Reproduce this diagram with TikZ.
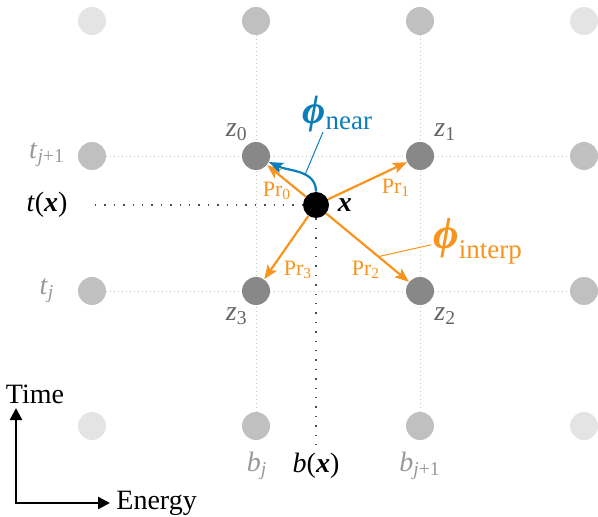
\documentclass[tikz,border=0pt]{standalone}
\usepackage{fontspec}
\setmainfont{Liberation Serif}
\usetikzlibrary{arrows.meta,positioning,calc,backgrounds}
\definecolor{dotpale}{HTML}{E4E4E4}
\definecolor{dotmid}{HTML}{C0C0C0}
\definecolor{dotdark}{HTML}{888888}
\definecolor{lblgray}{HTML}{666666}
\definecolor{lblpale}{HTML}{999999}
\definecolor{gridgray}{HTML}{C4C4C4}
\definecolor{interporange}{HTML}{F7941E}
\definecolor{nearblue}{HTML}{0B7DBA}
\tikzset{
  gdot/.style     = {circle, inner sep=0pt, minimum size=14pt},
  xdot/.style     = {circle, inner sep=0pt, minimum size=13pt, fill=black},
  gridline/.style = {gridgray, line width=0.4pt, dash pattern=on 0.4pt off 1.6pt},
  guideline/.style= {black!70, line width=0.7pt, dash pattern=on 0.7pt off 4pt},
  interp/.style   = {interporange, line width=1.1pt,
                     -{Stealth[length=7pt,width=5.5pt,inset=1.5pt]}},
  nearest/.style  = {nearblue, line width=1.1pt,
                     -{Stealth[length=7pt,width=5.5pt,inset=1.5pt]}},
  pointer/.style  = {line width=0.5pt},
  axis/.style     = {black, line width=1.2pt,
                     {Triangle[length=6pt,width=6pt]}-{Triangle[length=6pt,width=6pt]}},
  zlbl/.style     = {font=\fontsize{14}{16}\selectfont, text=lblgray, inner sep=1pt},
  glbl/.style     = {font=\fontsize{14}{16}\selectfont, text=lblpale, inner sep=1pt},
  prlbl/.style    = {font=\fontsize{11}{13}\selectfont, text=interporange, inner sep=1pt},
  txt/.style      = {font=\fontsize{14}{16}\selectfont, inner sep=1pt},
}
\begin{document}
\begin{tikzpicture}[x=0.5pt, y=0.5pt]
  \useasboundingbox (0,0) rectangle (598,-517);
  % grid of bins
  \foreach \c/\r/\col in {0/0/dotpale,1/0/dotmid,2/0/dotmid,3/0/dotpale,
                          0/1/dotmid,1/1/dotdark,2/1/dotdark,3/1/dotmid,
                          0/2/dotmid,1/2/dotdark,2/2/dotdark,3/2/dotmid,
                          0/3/dotpale,1/3/dotmid,2/3/dotmid,3/3/dotpale}
    \node[gdot, fill=\col] (g\c\r) at ({92+164*\c},{-21-135*\r}) {};
  \begin{scope}[on background layer]
    \draw[gridline] (g10) -- (g13);
    \draw[gridline] (g20) -- (g23);
    \draw[gridline] (g01) -- (g31);
    \draw[gridline] (g02) -- (g32);
  \end{scope}

  % corner labels
  \node[zlbl, anchor=south east] (z0) at (250,-143) {\textit{z}\textsubscript{0}};
  \node[zlbl, anchor=south west] (z1) at (432,-143) {\textit{z}\textsubscript{1}};
  \node[zlbl, anchor=north west] (z2) at (432,-305) {\textit{z}\textsubscript{2}};
  \node[zlbl, anchor=north east] (z3) at (250,-305) {\textit{z}\textsubscript{3}};

  % axis labels of the grid
  \node[glbl] (tj1) at (47,-155) {\textit{t}\textsubscript{\textit{j}+1}};
  \node[glbl] (tj)  at (47,-291) {\textit{t}\textsubscript{\textit{j}}};
  \node[glbl] (bj)  at (257,-466) {\textit{b}\textsubscript{\textit{j}}};
  \node[glbl] (bj1) at (420,-466) {\textit{b}\textsubscript{\textit{j}+1}};

  % the sample
  \node[xdot] (xpt) at (316,-205) {};
  \node[txt, right=3pt of xpt] (xlbl) {\textbf{\textit{x}}};
  \node[txt] (tx) at (47,-205) {\textit{t}(\textbf{\textit{x}})};
  \node[txt] (bx) at (316,-466) {\textit{b}(\textbf{\textit{x}})};
  \coordinate (txend) at (95,-205);
  \coordinate (bxend) at (316,-447);
  \begin{scope}[on background layer]
    \draw[guideline] (txend) -- (xpt);
    \draw[guideline] (xpt) -- (bxend);
  \end{scope}

  % interpolation
  \draw[interp] (xpt) -- (g11);
  \draw[interp] (xpt) -- (g21);
  \draw[interp] (xpt) -- (g22);
  \draw[interp] (xpt) -- (g12);
  \node[prlbl] (pr0) at (277,-191) {Pr\textsubscript{0}};
  \node[prlbl] (pr1) at (396,-188) {Pr\textsubscript{1}};
  \node[prlbl] (pr2) at (366,-270) {Pr\textsubscript{2}};
  \node[prlbl] (pr3) at (298,-270) {Pr\textsubscript{3}};
  \node[anchor=base west, inner sep=0pt, text=interporange] (phiint) at (433,-249)
    {{\fontsize{22}{22}\selectfont\bfseries\itshape ϕ}\raisebox{-5pt}{\fontsize{13.5}{14}\selectfont interp}};
  \draw[pointer, interporange] ($(xpt)!0.6!(g22)$) -- ($(phiint.west)+(-2,-3)$);

  % nearest neighbour
  \draw[nearest] (xpt.north) to[out=90, in=-25] coordinate[pos=0.4] (nearpt) (g11);
  \node[anchor=base west, inner sep=0pt, text=nearblue] (phinear) at (302,-124)
    {{\fontsize{20}{20}\selectfont\bfseries\itshape ϕ}\raisebox{-3pt}{\fontsize{13.5}{14}\selectfont near}};
  \coordinate (nearend) at (323,-132);
  \draw[pointer, nearblue] (nearpt) -- (nearend);

  % axes
  \coordinate (orig) at (16,-503);
  \coordinate (timetip) at (16,-408);
  \coordinate (energytip) at (110,-503);
  \draw[axis] (timetip) -- (orig) -- (energytip);
  \node[txt] (time) at (35,-394) {Time};
  \node[txt, right=2pt of energytip] (energy) {Energy};
\end{tikzpicture}
\end{document}
